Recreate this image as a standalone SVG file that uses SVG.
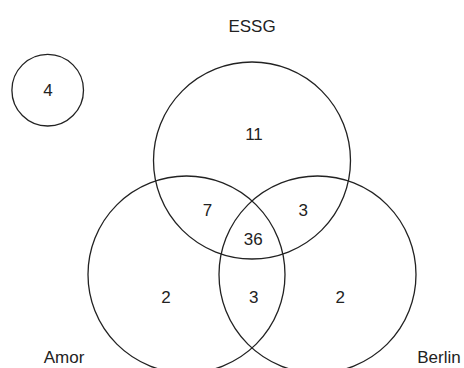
<svg xmlns="http://www.w3.org/2000/svg" width="464" height="368" viewBox="0 0 464 368">
<style>
.c{fill:none;stroke:#222;stroke-width:1.3}
text{font-family:"Liberation Sans",Arial,sans-serif;font-size:17px;fill:#222;text-anchor:middle}
</style>
<rect width="464" height="368" fill="#fff"/>
<g id="other"><circle class="c" cx="47.7" cy="90.2" r="35.8"/><text x="48" y="96">4</text></g>
<g id="essg"><circle class="c" cx="252" cy="160.5" r="98.5"/><text x="252" y="31.7">ESSG</text><text x="254" y="140">11</text></g>
<g id="amor"><circle class="c" cx="186.5" cy="274.5" r="98.5"/><text x="64" y="362.7">Amor</text><text x="166" y="303.3">2</text></g>
<g id="berlin"><circle class="c" cx="317.5" cy="274.5" r="98.5"/><text x="439" y="362.7">Berlin</text><text x="340.3" y="303.3">2</text></g>
<g id="overlaps">
<text x="207.5" y="216">7</text>
<text x="303.3" y="216">3</text>
<text x="253.3" y="245">36</text>
<text x="253.7" y="303.3">3</text>
</g>
<g id="connectors"/>
</svg>
